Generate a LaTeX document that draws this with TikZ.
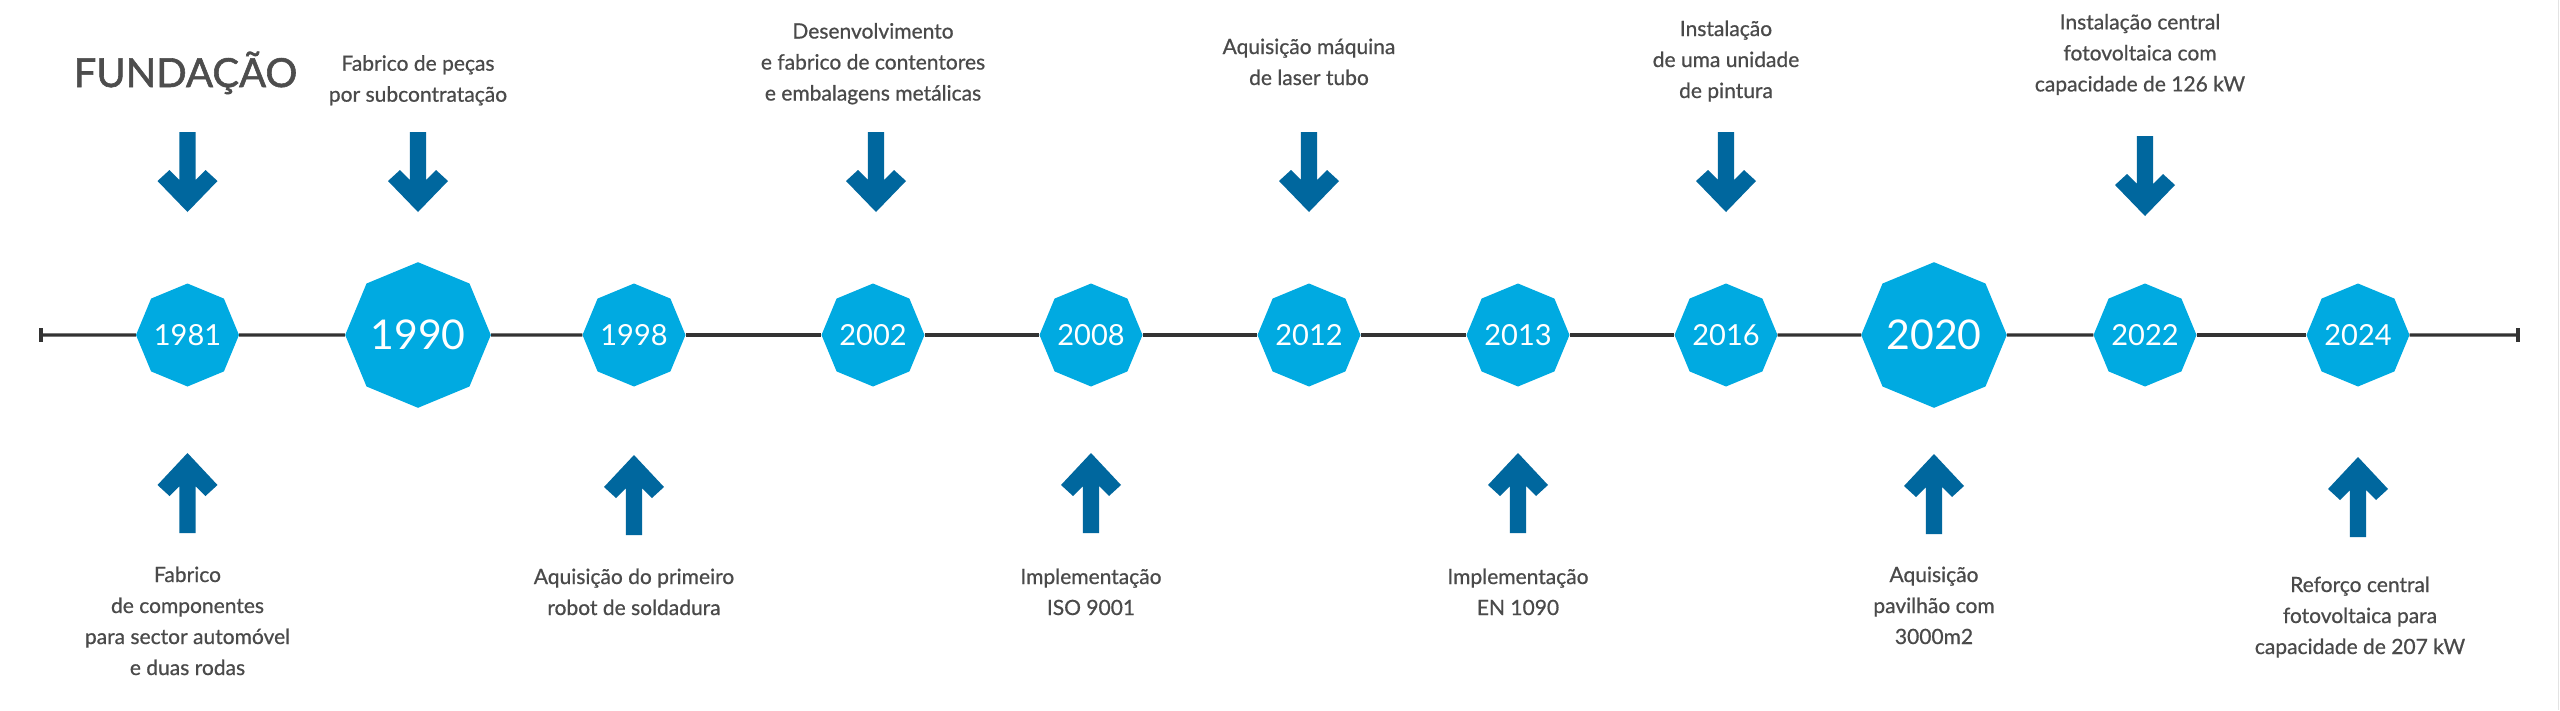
\documentclass[tikz,border=0pt]{standalone}
\usepackage{fontspec}
\setmainfont{Lato}
\newfontfamily\labelfont{Lato}[FakeBold=0.7]
\newfontfamily\titlefont{Lato}[FakeBold=1.4]
\usetikzlibrary{shapes.geometric}
\definecolor{octblue}{HTML}{00AAE1}
\definecolor{arrblue}{HTML}{00679E}
\definecolor{txtgray}{HTML}{4A4A4A}
\definecolor{fundgray}{HTML}{4D4D4D}
\definecolor{linegray}{HTML}{333333}
\definecolor{edgegray}{HTML}{E3E3E3}
\newcommand{\lbl}[1]{\begin{tabular}[t]{@{}c@{}}#1\end{tabular}}
\begin{document}
\begin{tikzpicture}[x=1pt,y=-1pt,
  octo/.style={regular polygon, regular polygon sides=8, shape border rotate=22.5,
    fill=octblue, inner sep=0pt, text=white, minimum size=101pt,
    font=\fontsize{29}{29}\selectfont},
  bigocto/.style={octo, minimum size=145pt, font=\fontsize{41}{41}\selectfont},
  evtext/.style={anchor=base, inner sep=0pt, text=txtgray,
    font=\labelfont\fontsize{21}{31}\selectfont},
  tl/.style={draw=linegray, line width=3.2pt},
  tick/.style={draw=linegray, line width=3.6pt},
  downarr/.pic={\fill[arrblue] (-8.2,0) -- (8.2,0) -- (8.2,47.8) -- (18,38) -- (30,49)
      -- (0,80) -- (-30,49) -- (-18,38) -- (-8.2,47.8) -- cycle;},
  uparr/.pic={\fill[arrblue] (0,0) -- (30,32) -- (18,43) -- (8.2,33.2) -- (8.2,80)
      -- (-8.2,80) -- (-8.2,33.2) -- (-18,43) -- (-30,32) -- cycle;}
]
\useasboundingbox (0,0) rectangle (2560,710);
\fill[white] (0,0) rectangle (2560,710);
\draw[edgegray, line width=1.5pt] (2558.5,0) -- (2558.5,710);

% timeline ends
\coordinate (tlL) at (41,335);
\coordinate (tlR) at (2518,335);
\draw[tick] (41,328) -- (41,342);
\draw[tick] (2518,328) -- (2518,342);

% year octagons
\node[octo]    (y1981) at (187.5,335) {1981};
\node[bigocto] (y1990) at (418,335) {1990};
\node[octo]    (y1998) at (634,335) {1998};
\node[octo]    (y2002) at (873,335) {2002};
\node[octo]    (y2008) at (1091,335) {2008};
\node[octo]    (y2012) at (1309,335) {2012};
\node[octo]    (y2013) at (1518,335) {2013};
\node[octo]    (y2016) at (1726,335) {2016};
\node[bigocto] (y2020) at (1934,335) {2020};
\node[octo]    (y2022) at (2145,335) {2022};
\node[octo]    (y2024) at (2358,335) {2024};

% timeline segments
\draw[tl] (tlL) -- (y1981.west);
\draw[tl] (y1981.east) -- (y1990.west);
\draw[tl] (y1990.east) -- (y1998.west);
\draw[tl] (y1998.east) -- (y2002.west);
\draw[tl] (y2002.east) -- (y2008.west);
\draw[tl] (y2008.east) -- (y2012.west);
\draw[tl] (y2012.east) -- (y2013.west);
\draw[tl] (y2013.east) -- (y2016.west);
\draw[tl] (y2016.east) -- (y2020.west);
\draw[tl] (y2020.east) -- (y2022.west);
\draw[tl] (y2022.east) -- (y2024.west);
\draw[tl] (y2024.east) -- (tlR);

% arrows
\pic at (187.5,132) {downarr};
\pic at (418,132) {downarr};
\pic at (876,132) {downarr};
\pic at (1309,132) {downarr};
\pic at (1726,132) {downarr};
\pic at (2145,136) {downarr};
\pic at (187.5,453) {uparr};
\pic at (634,455) {uparr};
\pic at (1091,453) {uparr};
\pic at (1518,453) {uparr};
\pic at (1934,454) {uparr};
\pic at (2358,457) {uparr};

% top texts
\node[anchor=base, inner sep=0pt, text=fundgray, font=\titlefont\fontsize{40}{40}\selectfont]
  (tFund) at (185.5,87) {FUNDAÇÃO};
\node[evtext] (t1990) at (418,70.7) {\lbl{Fabrico de peças\\por subcontratação}};
\node[evtext] (t2002) at (873,38.5) {\lbl{Desenvolvimento\\e fabrico de contentores\\e embalagens metálicas}};
\node[evtext] (t2012) at (1309,54) {\lbl{Aquisição máquina\\de laser tubo}};
\node[evtext] (t2016) at (1726,36) {\lbl{Instalação\\de uma unidade\\de pintura}};
\node[evtext] (t2022) at (2140,29.4) {\lbl{Instalação central\\fotovoltaica com\\capacidade de 126 kW}};

% bottom texts
\node[evtext] (b1981) at (187.5,582) {\lbl{Fabrico\\de componentes\\para sector automóvel\\e duas rodas}};
\node[evtext] (b1998) at (634,584) {\lbl{Aquisição do primeiro\\robot de soldadura}};
\node[evtext] (b2008) at (1091,584) {\lbl{Implementação\\ISO 9001}};
\node[evtext] (b2013) at (1518,584) {\lbl{Implementação\\EN 1090}};
\node[evtext] (b2020) at (1934,582) {\lbl{Aquisição\\pavilhão com\\3000m2}};
\node[evtext] (b2024) at (2360,592) {\lbl{Reforço central\\fotovoltaica para\\capacidade de 207 kW}};
\end{tikzpicture}
\end{document}
